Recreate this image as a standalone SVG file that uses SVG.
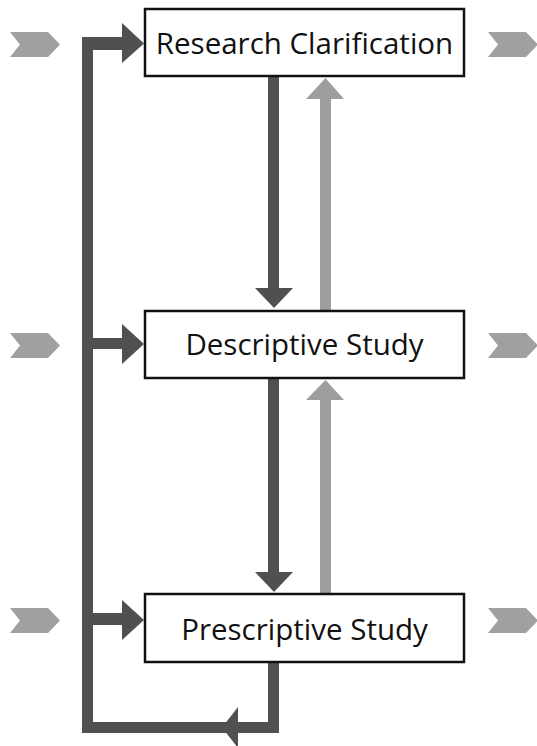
<svg xmlns="http://www.w3.org/2000/svg" width="537" height="746" viewBox="0 0 537 746">
<style>
.box{fill:#fff;stroke:#111;stroke-width:2.5}
.lbl{font-family:"Open Sans","Noto Sans",sans-serif;font-size:29.5px;fill:#111;text-anchor:middle}
.dark{fill:#505050}
.light{fill:#9e9e9e}
.chev{fill:#a0a0a0}
</style>
<defs>
<polygon id="chev" points="0,0 38,0 50,12.5 38,25 0,25 10,12.5"/>
</defs>
<g id="connectors">
<path class="dark" d="M268,663 H279 V733 H82 V37 H122 V23 L144,43.5 L122,63 V50 H93 V338 H122 V324 L144,344 L122,364 V349 H93 V613 H122 V600 L144,620 L122,640 V625 H93 V722 H268 Z"/>
<polygon class="dark" points="222,727.5 238,707 238,748"/>
<polygon class="dark" points="268,77 279,77 279,288 293,288 274,308 255,288 268,288"/>
<polygon class="dark" points="268,379 279,379 279,572 293,572 274,592 255,572 268,572"/>
<polygon class="light" points="320,310 331,310 331,99 344,99 325.5,78 306,99 320,99"/>
<polygon class="light" points="320,593 331,593 331,400 344,400 325.5,380 306,400 320,400"/>
</g>
<g id="side-chevrons">
<use href="#chev" class="chev" x="10" y="32"/>
<use href="#chev" class="chev" x="10" y="333"/>
<use href="#chev" class="chev" x="10" y="608"/>
<use href="#chev" class="chev" x="488" y="32"/>
<use href="#chev" class="chev" x="488" y="333"/>
<use href="#chev" class="chev" x="488" y="608"/>
</g>
<g id="research-clarification">
<rect class="box" x="145" y="9" width="319" height="67"/>
<text class="lbl" x="304.5" y="54">Research Clarification</text>
</g>
<g id="descriptive-study">
<rect class="box" x="145" y="311" width="319" height="67"/>
<text class="lbl" x="304.5" y="355">Descriptive Study</text>
</g>
<g id="prescriptive-study">
<rect class="box" x="145" y="594" width="319" height="68"/>
<text class="lbl" x="304.5" y="640">Prescriptive Study</text>
</g>
</svg>
